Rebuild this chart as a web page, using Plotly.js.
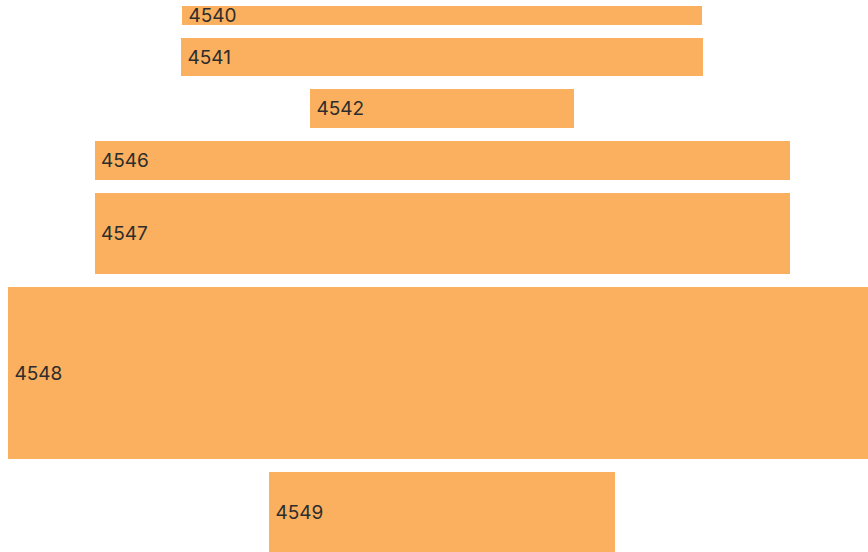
<!DOCTYPE html>
<html>
<head>
<meta charset="utf-8">
<script src="https://cdn.plot.ly/plotly-3.0.1.min.js"></script>
<style>html,body{margin:0;padding:0;background:#fff;}#chart{width:868px;height:552px;}</style>
</head>
<body>
<div id="chart"></div>
<script>
// Data
var labels = ["4540", "4541", "4542", "4546", "4547", "4548", "4549"];
var lengths = [520, 522, 264, 695, 695, 868, 346];   // horizontal extent
var thickness = [19, 38, 39, 39, 81, 172, 80];      // vertical extent

var gap = 13, startPos = 6;
var centers = [], cursor = startPos;
for (var i = 0; i < labels.length; i++) {
  centers.push(cursor + thickness[i] / 2);
  cursor += thickness[i] + gap;
}
var bases = lengths.map(function (v) { return -v / 2; });

var trace = {
  type: 'bar',
  orientation: 'h',
  y: centers,
  x: lengths,
  base: bases,
  width: thickness,
  text: labels.map(function (s) { return '\u2009' + s; }),
  textposition: 'inside',
  insidetextanchor: 'start',
  constraintext: 'none',
  textangle: 0,
  textfont: {family: 'Inter, "Noto Sans", sans-serif', size: 19, color: '#2d2d2d'},
  marker: {color: '#fab05e', line: {width: 0}},
  hoverinfo: 'none'
};

var layout = {
  width: 868, height: 552,
  margin: {l: 0, r: 0, t: 0, b: 0, pad: 0},
  paper_bgcolor: '#ffffff', plot_bgcolor: '#ffffff',
  showlegend: false,
  xaxis: {range: [-442, 426], visible: false, fixedrange: true},
  yaxis: {range: [552, 0], visible: false, fixedrange: true},
  bargap: 0
};

Plotly.newPlot('chart', [trace], layout, {displayModeBar: false, staticPlot: true});
</script>
</body>
</html>
